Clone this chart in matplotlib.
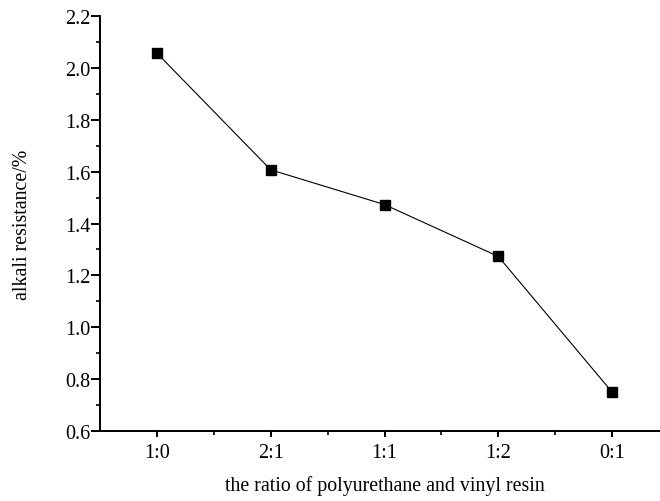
import matplotlib
matplotlib.use('Agg')
import matplotlib.pyplot as plt
from matplotlib.ticker import MultipleLocator, FixedLocator, FormatStrFormatter

# data
ratios = ['1:0', '2:1', '1:1', '1:2', '0:1']
alkali_resistance = [2.057, 1.607, 1.473, 1.273, 0.750]

plt.rcParams['font.family'] = ['Liberation Serif', 'DejaVu Serif']

fig = plt.figure(figsize=(6.6, 5.02), dpi=100)
ax = fig.add_axes([100 / 660, 70 / 502, 569 / 660, 415 / 502])

x = list(range(1, len(ratios) + 1))
ax.plot(x, alkali_resistance, color='black', linewidth=0.8,
        marker='s', markersize=7, markerfacecolor='black', markeredgecolor='black')

ax.set_xlim(0.5, 5.5)
ax.set_ylim(0.6, 2.2)
ax.set_xticks(x)
ax.set_xticklabels(ratios)
ax.xaxis.set_minor_locator(FixedLocator([1.5, 2.5, 3.5, 4.5]))
ax.yaxis.set_major_locator(MultipleLocator(0.2))
ax.yaxis.set_minor_locator(MultipleLocator(0.1))
ax.yaxis.set_major_formatter(FormatStrFormatter('%.1f'))

for side in ['top', 'right']:
    ax.spines[side].set_visible(False)
for side in ['left', 'bottom']:
    ax.spines[side].set_linewidth(1.4)

ax.tick_params(axis='y', which='major', direction='out', length=6.5, width=1.4, labelsize=14.5, pad=0.5)
ax.tick_params(axis='y', which='minor', direction='out', length=3, width=1.2)
ax.tick_params(axis='x', which='major', direction='out', length=4, width=1.4, labelsize=14.5, pad=5)
ax.tick_params(axis='x', which='minor', direction='out', length=3, width=1.2)

ax.set_xlabel('the ratio of polyurethane and vinyl resin', fontsize=14.3, labelpad=9)
ax.set_ylabel('alkali resistance/%', fontsize=14.3, labelpad=24)

fig.savefig('out.png', dpi=100)
